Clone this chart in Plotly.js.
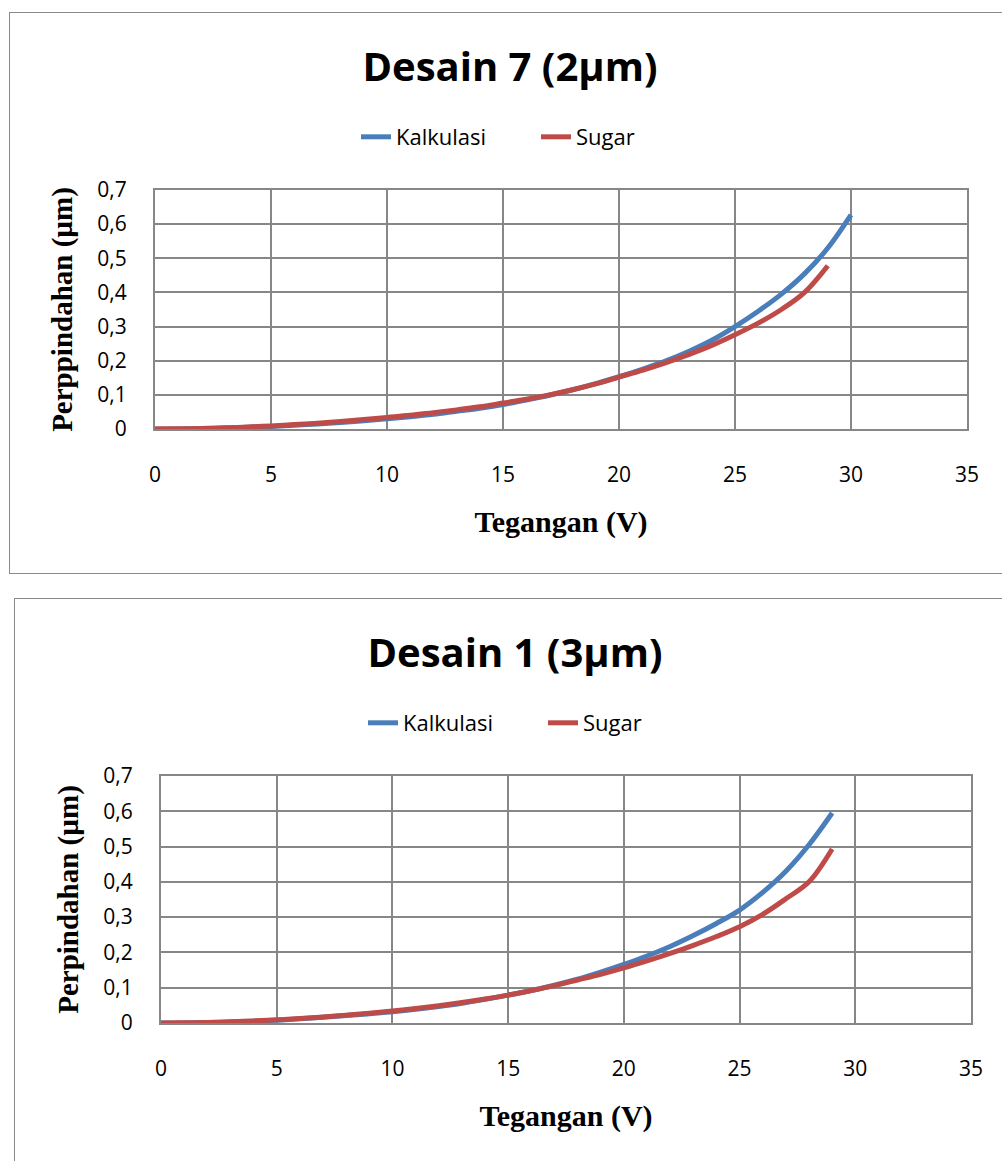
<!DOCTYPE html>
<html><head><meta charset="utf-8">
<script src="https://cdn.plot.ly/plotly-3.0.1.min.js"></script>
<style>
html,body{margin:0;padding:0;background:#fff;width:1002px;height:1161px;overflow:hidden;}
.box{position:absolute;outline:2px solid #8a8a8a;outline-offset:-1px;}
</style></head><body>
<div id="c1" class="box" style="left:10px;top:13px;width:1000px;height:560px"></div>
<div id="c2" class="box" style="left:15px;top:599px;width:1000px;height:600px"></div>
<script>
// ---- Chart 1: Desain 7 (2µm) ----
const voltsK1 = [0,1,2,3,4,5,6,7,8,9,10,11,12,13,14,15,16,17,18,19,20,21,22,23,24,25,26,27,28,29,30];
const kalkulasi1 = [0,0.0003,0.0012,0.0027,0.0048,0.0075,0.011,0.015,0.019,0.024,0.030,0.036,0.043,0.052,0.061,0.072,0.085,0.099,0.115,0.133,0.153,0.175,0.199,0.227,0.260,0.300,0.345,0.395,0.455,0.530,0.627];
const voltsS1 = [0,1,2,3,4,5,6,7,8,9,10,11,12,13,14,15,16,17,18,19,20,21,22,23,24,25,26,27,28,29];
const sugar1 = [0,0.0004,0.0015,0.0033,0.006,0.009,0.013,0.017,0.022,0.028,0.034,0.040,0.048,0.056,0.065,0.076,0.087,0.100,0.115,0.132,0.152,0.172,0.194,0.218,0.245,0.276,0.310,0.350,0.400,0.478];

// ---- Chart 2: Desain 1 (3µm) ----
const voltsK2 = [0,1,2,3,4,5,6,7,8,9,10,11,12,13,14,15,16,17,18,19,20,21,22,23,24,25,26,27,28,29];
const kalkulasi2 = [0,0.0003,0.0013,0.003,0.0052,0.008,0.012,0.016,0.021,0.026,0.032,0.039,0.047,0.056,0.067,0.079,0.092,0.107,0.124,0.144,0.166,0.190,0.217,0.248,0.282,0.320,0.370,0.430,0.505,0.595];
const voltsS2 = [0,1,2,3,4,5,6,7,8,9,10,11,12,13,14,15,16,17,18,19,20,21,22,23,24,25,26,27,28,29];
const sugar2 = [0,0.0004,0.0015,0.0033,0.006,0.009,0.013,0.017,0.022,0.028,0.034,0.041,0.049,0.058,0.068,0.079,0.092,0.106,0.122,0.138,0.156,0.176,0.197,0.220,0.245,0.273,0.308,0.352,0.400,0.493];

const seriesNames = ['Kalkulasi','Sugar'];
const seriesColors = ['#4A7EBB','#BE4B48'];
const xTickVals = [0,5,10,15,20,25,30,35];
const yTickVals = [0,0.1,0.2,0.3,0.4,0.5,0.6,0.7];

function traces(xk, yk, xs, ys){
  return [
    {x:xk, y:yk, name:seriesNames[0], type:'scatter', mode:'lines', line:{color:seriesColors[0], width:5, shape:'spline'}},
    {x:xs, y:ys, name:seriesNames[1], type:'scatter', mode:'lines', line:{color:seriesColors[1], width:5, shape:'spline'}}
  ];
}

function layout(title, ytitle, h, m, lx){
  const grid = '#878787';
  const tf = {family:'Open Sans', size:21, color:'#000'};
  return {
    width:1000, height:h, margin:m,
    paper_bgcolor:'#fff', plot_bgcolor:'#fff',
    separators:',.', showlegend:true,
    title:{text:title, font:{family:'Open Sans', size:40, color:'#000', weight:700},
      x:0.5, xanchor:'center', xref:'container', y:1-54/h, yanchor:'middle', yref:'container'},
    legend:{orientation:'h', x:lx, xanchor:'left', xref:'container', y:1-124/h, yanchor:'middle', yref:'container',
      font:{family:'Open Sans', size:22, color:'#000'}, entrywidth:135, entrywidthmode:'pixels'},
    xaxis:{range:[0,35], tickvals:xTickVals, showgrid:true, gridcolor:grid, gridwidth:2,
      showline:true, mirror:true, linecolor:grid, linewidth:2, zeroline:false,
      ticks:'outside', ticklen:26, tickcolor:'rgba(0,0,0,0)', tickfont:tf,
      title:{text:'<b>Tegangan (V)</b>', font:{family:'Liberation Serif', size:30, color:'#000'}, standoff:24}},
    yaxis:{range:[0,0.7], tickvals:yTickVals, showgrid:true, gridcolor:grid, gridwidth:2,
      showline:true, mirror:true, linecolor:grid, linewidth:2, zeroline:false,
      ticks:'outside', ticklen:22, tickcolor:'rgba(0,0,0,0)', tickfont:tf,
      title:{text:'<b>'+ytitle+'</b>', font:{family:'Liberation Serif', size:29, color:'#000'}, standoff:16}}
  };
}

Plotly.newPlot('c1', traces(voltsK1, kalkulasi1, voltsS1, sugar1),
  layout('Desain 7 (2µm)', 'Perppindahan (µm)', 560, {l:145, r:43, t:177, b:144}, 0.346), {staticPlot:true});
Plotly.newPlot('c2', traces(voltsK2, kalkulasi2, voltsS2, sugar2),
  layout('Desain 1 (3µm)', 'Perpindahan (µm)', 600, {l:146, r:44, t:177, b:176}, 0.348), {staticPlot:true});
</script></body></html>
